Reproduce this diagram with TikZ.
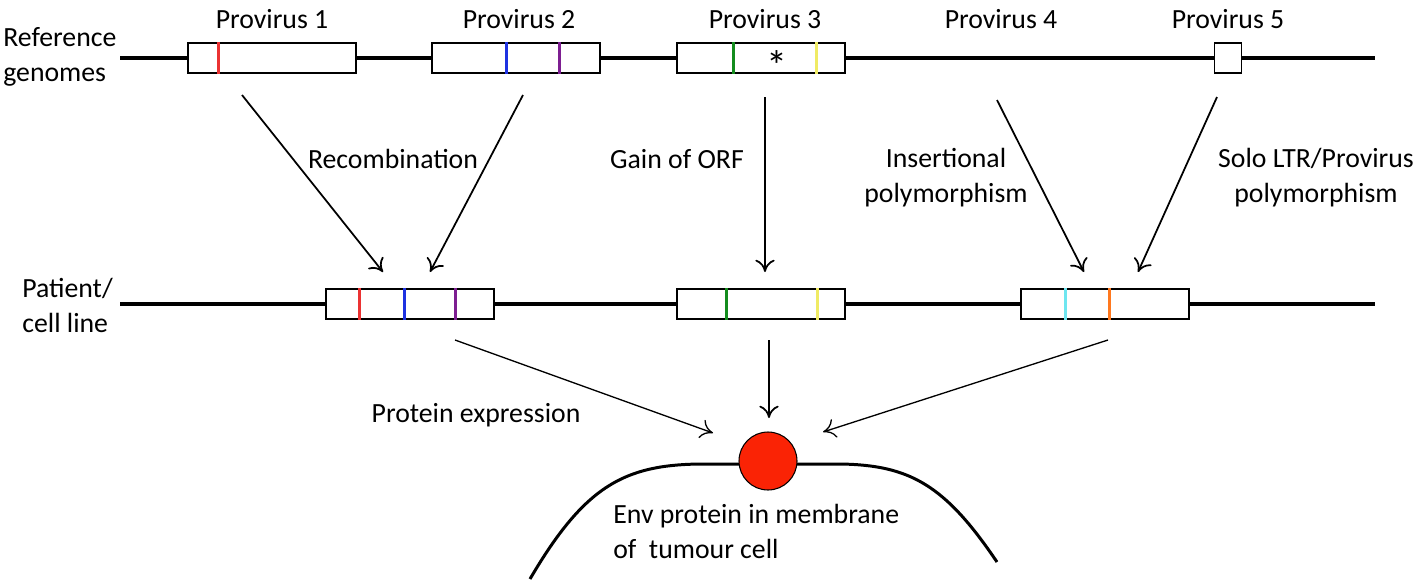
\documentclass[tikz,border=0pt]{standalone}
\usepackage{fontspec}
\setmainfont{Carlito}
\usetikzlibrary{arrows.meta}
\usetikzlibrary{calc}
\definecolor{cRed}{RGB}{235,50,50}
\definecolor{cBlue}{RGB}{30,50,225}
\definecolor{cPurple}{RGB}{125,30,145}
\definecolor{cGreen}{RGB}{20,140,30}
\definecolor{cYellow}{RGB}{240,235,100}
\definecolor{cCyan}{RGB}{110,230,240}
\definecolor{cOrange}{RGB}{255,120,30}
\definecolor{envred}{RGB}{250,35,5}

\begin{document}
\begin{tikzpicture}[
	x=0.02cm, y=-0.02cm,
	font=\fontsize{15.8}{19.4}\selectfont,
  > = {Computer Modern Rightarrow[length=7pt,width=11pt]},
  genome/.style = {line width=2pt},
  provirus/.style = {draw,fill=white,line width=0.9pt,minimum width=3.36cm,minimum height=0.6cm,inner sep=0pt},
  stripe/.style = {line width=1.6pt},
  lbl/.style = {inner sep=0pt,anchor=base},
  link/.style = {->,line width=1pt},
  thinlink/.style = {->,line width=0.75pt}
  ]
	\useasboundingbox (0,0) rectangle (1418,579);

	% genome lines
	\coordinate (@refL) at (120,58);
	\coordinate (@refR) at (1375,58);
	\coordinate (@patL) at (120,304);
	\coordinate (@patR) at (1375,304);
	\draw[genome] (@refL) -- (@refR);
	\draw[genome] (@patL) -- (@patR);

	\node[provirus] (ref1) at (272,58) {};
	\node[provirus] (ref2) at (516,58) {};
	\node[provirus] (ref3) at (761,58) {};
	\node[provirus,minimum width=0.54cm] (ref5) at (1228,58) {};

	\node[provirus] (pat1) at (410,304) {};
	\node[provirus] (pat2) at (761,304) {};
	\node[provirus] (pat3) at (1105,304) {};

	\draw[stripe,cRed] ($(ref1.south west)+(31,0)$) -- ($(ref1.north west)+(31,0)$);
	\draw[stripe,cBlue] ($(ref2.south west)+(75,0)$) -- ($(ref2.north west)+(75,0)$);
	\draw[stripe,cPurple] ($(ref2.south west)+(128,0)$) -- ($(ref2.north west)+(128,0)$);
	\draw[stripe,cGreen] ($(ref3.south west)+(57,0)$) -- ($(ref3.north west)+(57,0)$);
	\draw[stripe,cYellow] ($(ref3.south west)+(140,0)$) -- ($(ref3.north west)+(140,0)$);
	\node[lbl,font=\fontsize{24}{24}\selectfont] (orf) at ($(ref3.west)+(101,22)$) {*};

	\draw[stripe,cRed] ($(pat1.south west)+(34,0)$) -- ($(pat1.north west)+(34,0)$);
	\draw[stripe,cBlue] ($(pat1.south west)+(79,0)$) -- ($(pat1.north west)+(79,0)$);
	\draw[stripe,cPurple] ($(pat1.south west)+(130,0)$) -- ($(pat1.north west)+(130,0)$);
	\draw[stripe,cGreen] ($(pat2.south west)+(50,0)$) -- ($(pat2.north west)+(50,0)$);
	\draw[stripe,cYellow] ($(pat2.south west)+(141,0)$) -- ($(pat2.north west)+(141,0)$);
	\draw[stripe,cCyan] ($(pat3.south west)+(45,0)$) -- ($(pat3.north west)+(45,0)$);
	\draw[stripe,cOrange] ($(pat3.south west)+(89,0)$) -- ($(pat3.north west)+(89,0)$);

	% labels
	\node[lbl] (name1) at (272,28) {Provirus 1};
	\node[lbl] (name2) at (519,28) {Provirus 2};
	\node[lbl] (name3) at (765,28) {Provirus 3};
	\node[lbl] (name4) at (1001,28) {Provirus 4};
	\node[lbl] (name5) at (1228,28) {Provirus 5};
	\node[lbl,anchor=base west,align=left] (refname) at (3,81) {Reference\\genomes};
	\node[lbl,anchor=base west,align=left] (patname) at (22,332) {Patient/\\cell line};

	\node[lbl] (recomb) at (393,168) {Recombination};
	\node[lbl] (gain) at (677,168) {Gain of ORF};
	\node[lbl,align=center] (insert) at (946,202) {Insertional\\polymorphism};
	\node[lbl,align=center] (solo) at (1316,202) {Solo LTR/Provirus\\polymorphism};
	\node[lbl] (expr) at (476,422) {Protein expression};

	% arrows
	\coordinate (@s1) at (242,95);
	\coordinate (@s2) at (523,95);
	\coordinate (@s3) at (765,97);
	\coordinate (@s4) at (997,100);
	\coordinate (@s5) at (1217,97);
	\coordinate (@e1) at (383,272);
	\coordinate (@e2) at (430,272);
	\coordinate (@e3) at (765,272);
	\coordinate (@e4) at (1084,272);
	\coordinate (@e5) at (1138,272);
	\draw[link] (@s1) -- (@e1);
	\draw[link] (@s2) -- (@e2);
	\draw[link] (@s3) -- (@e3);
	\draw[link] (@s4) -- (@e4);
	\draw[link] (@s5) -- (@e5);

	\coordinate (@b1) at (455,340);
	\coordinate (@b2) at (769,340);
	\coordinate (@b3) at (1108,340);
	\coordinate (@t1) at (713,433);
	\coordinate (@t2) at (769,418);
	\coordinate (@t3) at (823,432);
	\draw[thinlink] (@b1) -- (@t1);
	\draw[link] (@b2) -- (@t2);
	\draw[thinlink] (@b3) -- (@t3);

	% tumour cell
	\draw[line width=1.7pt] (530,579) .. controls (585,485) and (625,465) .. (700,464)
		-- (840,464) .. controls (910,465) and (945,485) .. (997,562);
	\node[circle,draw,fill=envred,line width=0.6pt,minimum size=1.16cm,inner sep=0pt] (env) at (768,461) {};
	\node[lbl,anchor=base west,align=left] (envtext) at (613,558) {Env protein in membrane\\of\ \ tumour cell};

\end{tikzpicture}
\end{document}
